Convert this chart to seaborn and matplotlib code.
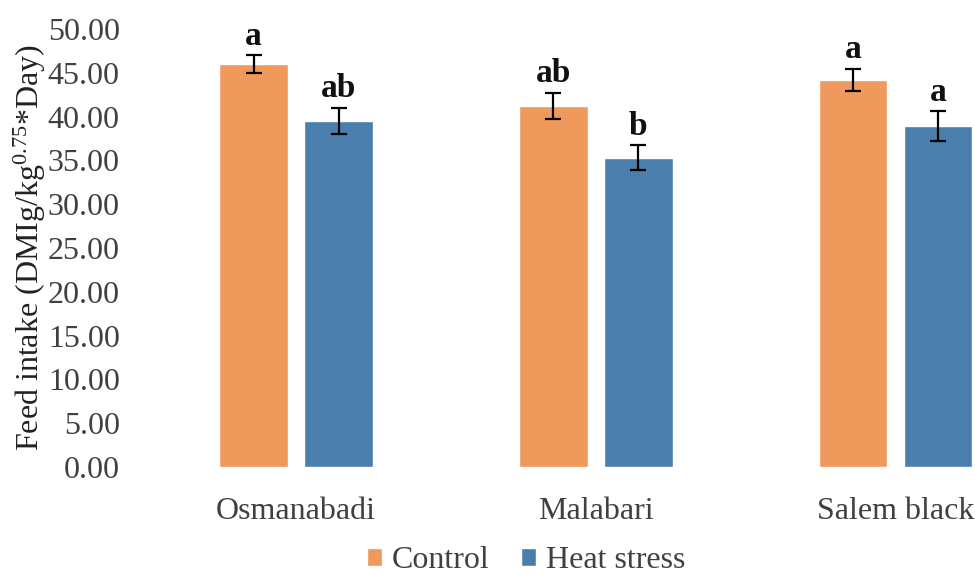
import matplotlib
matplotlib.use("Agg")
import matplotlib.pyplot as plt
import seaborn as sns
import pandas as pd
import numpy as np

breeds = ["Osmanabadi", "Malabari", "Salem black"]
groups = ["Control", "Heat stress"]
control_mean = [46.0, 41.2, 44.2]
heat_mean = [39.5, 35.3, 38.9]
control_err = [1.0, 1.5, 1.25]
heat_err = [1.5, 1.45, 1.7]
control_letters = ["a", "ab", "a"]
heat_letters = ["ab", "b", "a"]
yticks = [0, 5, 10, 15, 20, 25, 30, 35, 40, 45, 50]

palette = {"Control": "#F0995C", "Heat stress": "#4A7EAD"}

df = pd.DataFrame({
    "Breed": breeds * 2,
    "Group": ["Control"] * 3 + ["Heat stress"] * 3,
    "Intake": control_mean + heat_mean,
    "Err": control_err + heat_err,
    "Letter": control_letters + heat_letters,
})

sns.set_style("white")
plt.rcParams["font.family"] = ["Liberation Serif", "DejaVu Serif"]
plt.rcParams["mathtext.fontset"] = "custom"
plt.rcParams["mathtext.rm"] = "Liberation Serif"
plt.rcParams["mathtext.it"] = "Liberation Serif:italic"

fig = plt.figure(figsize=(9.75, 5.8), dpi=100)
ax = fig.add_axes([0.15, 0.195, 0.85, 0.755])

sns.barplot(data=df, x="Breed", y="Intake", hue="Group", order=breeds,
            hue_order=groups, palette=palette, width=0.567, gap=0.19,
            errorbar=None, saturation=1, ax=ax, legend=True)

# error bars and significance letters placed on the drawn bars
for container, grp in zip(ax.containers, groups):
    sub = df[df["Group"] == grp].set_index("Breed").loc[breeds]
    for bar, (_, row) in zip(container, sub.iterrows()):
        xc = bar.get_x() + bar.get_width() / 2
        h = bar.get_height()
        ax.errorbar(xc, h, yerr=row["Err"], fmt="none", ecolor="black",
                    elinewidth=1.6, capsize=5.5, capthick=1.6)
        ax.text(xc, h + row["Err"] + 0.4, row["Letter"], ha="center",
                va="bottom", fontsize=24, fontweight="bold", color="#111111")

ax.set_ylim(0, 50)
ax.set_xlim(-0.5, 2.265)
ax.set_yticks(yticks)
ax.set_yticklabels([f"{v:.2f}" for v in yticks])
ax.tick_params(axis="both", length=0, labelsize=23, labelcolor="#404040")
ax.tick_params(axis="y", pad=19)
ax.tick_params(axis="x", pad=22)
ax.set_xlabel("")
ax.set_ylabel(r"Feed intake (DMIg/kg$^{0.75}$*Day)", fontsize=23,
              color="#222222", labelpad=0)
for s in ax.spines.values():
    s.set_visible(False)

leg = ax.legend(loc="center", bbox_to_anchor=(526 / 975, 19 / 580),
                bbox_transform=fig.transFigure, ncol=2,
                frameon=False, fontsize=23, handlelength=0.47,
                handleheight=0.47, handletextpad=0.3, columnspacing=1.0,
                labelcolor="#404040", borderaxespad=0, borderpad=0.1)

fig.savefig("out.png", dpi=100)
